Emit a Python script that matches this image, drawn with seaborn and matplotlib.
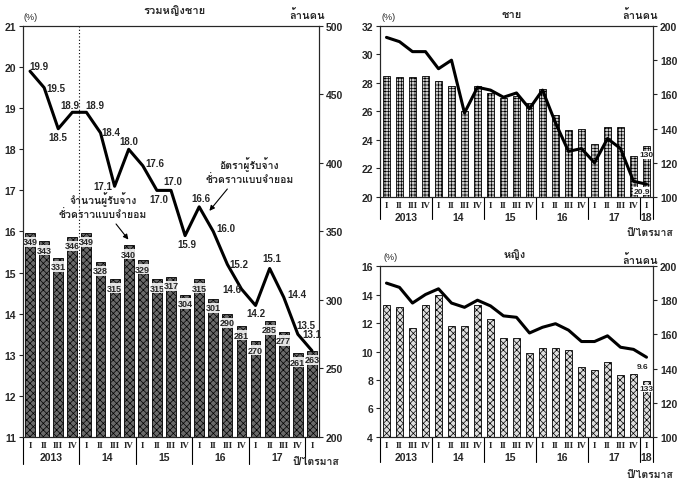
import numpy as np
import pandas as pd
import seaborn as sns
import matplotlib.pyplot as plt
from matplotlib import font_manager
from fontTools.ttLib import TTFont

# quarters 2013 Q1 .. 2018 Q1
quarters = ["I", "II", "III", "IV"] * 5 + ["I"]
years_left = ["2013", "14", "15", "16", "17"]
years_right = ["2013", "14", "15", "16", "17", "18"]

# total (left panel)
total_rate = [19.9, 19.5, 18.5, 18.9, 18.9, 18.4, 17.1, 18.0, 17.6, 17.0, 17.0,
              15.9, 16.6, 16.0, 15.2, 14.6, 14.2, 15.1, 14.4, 13.5, 13.1]
total_count = [349, 343, 331, 346, 349, 328, 315, 340, 329, 315, 317,
               304, 315, 301, 290, 281, 270, 285, 277, 261, 263]

# men
men_rate = [31.2, 30.9, 30.2, 30.2, 29.0, 29.6, 25.9, 27.7, 27.5, 27.0, 27.3,
            26.2, 27.5, 25.2, 23.2, 23.4, 22.4, 24.1, 23.4, 21.1, 20.9]
men_count = [171, 170, 170, 171, 168, 165, 150, 165, 161, 158, 159,
             155, 163, 148, 139, 140, 131, 141, 141, 124, 130]

# women
women_rate = [14.8, 14.5, 13.4, 14.0, 14.4, 13.4, 13.1, 13.6, 13.2, 12.5, 12.4,
              11.3, 11.7, 11.95, 11.5, 10.7, 10.7, 11.1, 10.3, 10.15, 9.6]
women_count = [177, 176, 164, 177, 183, 165, 165, 177, 169, 158, 158,
               149, 152, 152, 151, 141, 139, 144, 136, 137, 133]


def thai_fonts():
    names = []
    for fe in font_manager.fontManager.ttflist:
        try:
            cmap = TTFont(fe.fname, fontNumber=0, lazy=True).getBestCmap()
        except Exception:
            continue
        if cmap and 0x0E23 in cmap and fe.name not in names:
            names.append(fe.name)
    return names


sns.set_style("ticks")
plt.rcParams["font.family"] = ["Liberation Sans"] + thai_fonts() + ["DejaVu Sans"]
plt.rcParams["hatch.linewidth"] = 0.5

fig = plt.figure(figsize=(6.8, 4.81), dpi=100)
FS = 7.5
NUM = 7


def panel(rect, rate, count, ylim_l, ystep_l, ylim_r, ystep_r, years,
          bar_face, bar_hatch, bar_width, sep_px):
    ax = fig.add_axes(rect)
    ax2 = ax.twinx()
    x = np.arange(len(rate))
    df = pd.DataFrame({"x": x, "rate": rate, "count": count})
    sns.barplot(data=df, x="x", y="count", ax=ax2, color=bar_face, saturation=1,
                edgecolor="black", linewidth=0.6, width=bar_width, hatch=bar_hatch,
                errorbar=None)
    sns.lineplot(data=df, x="x", y="rate", ax=ax, color="black", lw=2.2)
    ax.set_zorder(ax2.get_zorder() + 1)
    ax.patch.set_visible(False)

    ax.set_xlim(-0.5, len(rate) - 0.5)
    ax2.set_xlim(-0.5, len(rate) - 0.5)
    ax.set_ylim(*ylim_l)
    ax.set_yticks(np.arange(ylim_l[0], ylim_l[1] + 0.1, ystep_l))
    ax2.set_ylim(*ylim_r)
    ax2.set_yticks(np.arange(ylim_r[0], ylim_r[1] + 0.1, ystep_r))
    for a in (ax, ax2):
        a.set_xlabel("")
        a.set_ylabel("")
        for s in a.spines.values():
            s.set_visible(True)
            s.set_linewidth(0.8)
        a.tick_params(axis="y", labelsize=NUM + 0.5, length=3, width=0.8, pad=2)
    for lab in ax.get_yticklabels() + ax2.get_yticklabels():
        lab.set_fontweight("bold")

    ax.set_xticks(x)
    ax.set_xticklabels(quarters, fontfamily="Liberation Serif", fontsize=6.5,
                       fontweight="bold")
    ax.tick_params(axis="x", length=0, pad=3)
    ax2.tick_params(axis="x", length=0, labelbottom=False)

    # year groups and separators below the axis
    h_px = rect[3] * fig.get_figheight() * fig.dpi
    tr = ax.get_xaxis_transform()
    for b in [-0.5, 3.5, 7.5, 11.5, 15.5, 19.5]:
        ax.plot([b, b], [0, -sep_px / h_px], transform=tr, color="black",
                lw=0.8, clip_on=False)
    if len(years) == 6:
        ax.plot([20.5, 20.5], [0, -sep_px / h_px], transform=tr, color="black",
                lw=0.8, clip_on=False)
    centers = [1.5, 5.5, 9.5, 13.5, 17.5, 20][:len(years)]
    for c, yr in zip(centers, years):
        ax.annotate(yr, xy=(c, 0), xycoords=("data", "axes fraction"),
                    xytext=(0, -20), textcoords="offset pixels", ha="center",
                    va="center", fontsize=NUM + 0.5, fontweight="bold")
    return ax, ax2


# ---- left panel: total ----
axL, axL2 = panel([0.0338, 0.0894, 0.4353, 0.8545], total_rate, total_count,
                  (11, 21), 1, (200, 500), 50, years_left,
                  "#6a6a6a", "xxxxx", 0.7, 27)
axL.axvline(3.5, color="black", lw=0.8, ls=(0, (1, 2)))

line_off = [(9, 5), (12, 0), (0, -8), (-2, 7), (8, 7), (10, 1), (-12, 0),
            (0, 8), (12, 3), (2, -9), (2, 9), (2, -8), (2, 9), (13, 3),
            (12, 0), (-10, 0), (0, -8), (2, 10), (13, 3), (8, 9), (0, 17)]
for i, (v, off) in enumerate(zip(total_rate, line_off)):
    axL.annotate(f"{v:.1f}", xy=(i, v), xytext=off, textcoords="offset pixels",
                 ha="center", va="center", fontsize=NUM, fontweight="bold")
for i, v in enumerate(total_count):
    axL2.annotate(str(v), xy=(i, v), xytext=(0, -9), textcoords="offset pixels",
                  ha="center", va="center", fontsize=NUM - 0.5, fontweight="bold",
                  bbox=dict(boxstyle="square,pad=0.06", fc="white", ec="none",
                            alpha=0.85))

axL.annotate("จำนวนผู้รับจ้าง\nชั่วคราวแบบจำยอม", xy=(7.1, 15.75),
             xytext=(0.27, 0.565), textcoords="axes fraction", ha="center",
             va="center", fontsize=FS, fontweight="bold",
             arrowprops=dict(arrowstyle="-|>", color="black", lw=0.8,
                             relpos=(0.6, 0)))
axL.annotate("อัตราผู้รับจ้าง\nชั่วคราวแบบจำยอม", xy=(12.6, 16.45),
             xytext=(0.765, 0.65), textcoords="axes fraction", ha="center",
             va="center", fontsize=FS, fontweight="bold",
             arrowprops=dict(arrowstyle="-|>", color="black", lw=0.8,
                             relpos=(0.3, 0)))

fig.text(175 / 680, 1 - 11 / 481, "รวมหญิงชาย", ha="center", va="center",
         fontsize=FS + 0.5, fontweight="bold")
fig.text(24 / 680, 1 - 17 / 481, "(%)", ha="left", va="center", fontsize=6.5)
fig.text(307 / 680, 1 - 15 / 481, "ล้านคน", ha="center", va="center",
         fontsize=FS + 0.5, fontweight="bold")
fig.text(339 / 680, 1 - 462 / 481, "ปี/ไตรมาส", ha="right", va="center",
         fontsize=FS, fontweight="bold")

# ---- top right: men ----
axM, axM2 = panel([0.5588, 0.5884, 0.4015, 0.3555], men_rate, men_count,
                  (20, 32), 2, (100, 200), 20, years_right,
                  "#cccccc", "+++++", 0.6, 22)
axM.annotate(f"{men_rate[-1]:.1f}", xy=(20, men_rate[-1]), xytext=(-5, -7),
             textcoords="offset pixels", ha="center", va="center",
             fontsize=NUM - 1, fontweight="bold",
             bbox=dict(boxstyle="square,pad=0.05", fc="white", ec="none"))
axM2.annotate(str(men_count[-1]), xy=(20, men_count[-1]), xytext=(0, -9),
              textcoords="offset pixels", ha="center", va="center",
              fontsize=NUM - 1, fontweight="bold",
              bbox=dict(boxstyle="square,pad=0.05", fc="white", ec="none"))
fig.text(512 / 680, 1 - 15 / 481, "ชาย", ha="center", va="center",
         fontsize=FS + 0.5, fontweight="bold")
fig.text(381 / 680, 1 - 17 / 481, "(%)", ha="left", va="center", fontsize=6.5)
fig.text(640 / 680, 1 - 15 / 481, "ล้านคน", ha="center", va="center",
         fontsize=FS + 0.5, fontweight="bold")
fig.text(673 / 680, 1 - 233 / 481, "ปี/ไตรมาส", ha="right", va="center",
         fontsize=FS, fontweight="bold")

# ---- bottom right: women ----
axW, axW2 = panel([0.5588, 0.0894, 0.4015, 0.3555], women_rate, women_count,
                  (4, 16), 2, (100, 200), 20, years_right,
                  "#dedede", "xxxxx", 0.6, 25)
axW.annotate(f"{women_rate[-1]:.1f}", xy=(20, women_rate[-1]), xytext=(-4, -9),
             textcoords="offset pixels", ha="center", va="center",
             fontsize=NUM - 1, fontweight="bold")
axW2.annotate(str(women_count[-1]), xy=(20, women_count[-1]), xytext=(0, -8),
              textcoords="offset pixels", ha="center", va="center",
              fontsize=NUM - 1, fontweight="bold",
              bbox=dict(boxstyle="square,pad=0.05", fc="white", ec="none"))
fig.text(515 / 680, 1 - 255 / 481, "หญิง", ha="center", va="center",
         fontsize=FS + 0.5, fontweight="bold")
fig.text(383 / 680, 1 - 258 / 481, "(%)", ha="left", va="center", fontsize=6.5)
fig.text(640 / 680, 1 - 260 / 481, "ล้านคน", ha="center", va="center",
         fontsize=FS + 0.5, fontweight="bold")
fig.text(673 / 680, 1 - 475 / 481, "ปี/ไตรมาส", ha="right", va="center",
         fontsize=FS, fontweight="bold")

fig.savefig("out.png", dpi=100)
